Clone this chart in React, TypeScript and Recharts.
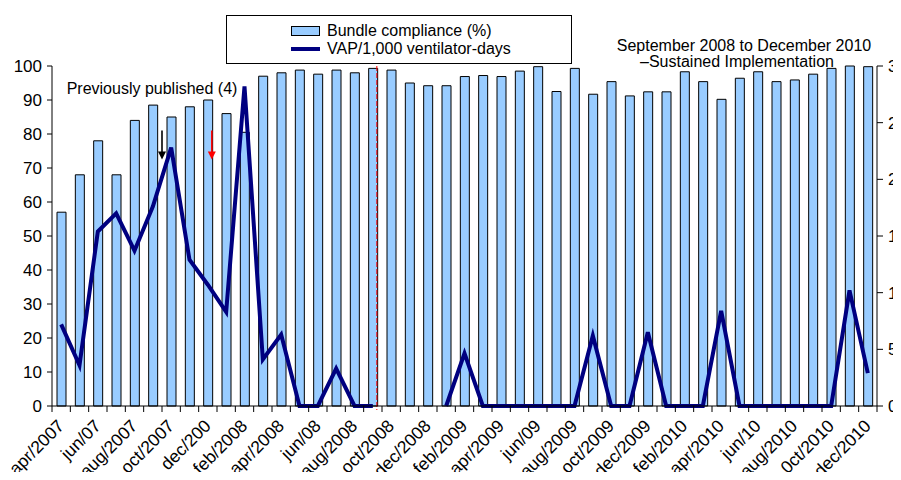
import {
  ComposedChart, Bar, Line, XAxis, YAxis, Legend, ReferenceLine, Customized,
} from 'recharts';

const MONTHS = [
  'apr/2007', 'may/2007', 'jun/2007', 'jul/2007', 'aug/2007', 'sep/2007', 'oct/2007', 'nov/2007', 'dec/2007',
  'jan/2008', 'feb/2008', 'mar/2008', 'apr/2008', 'may/2008', 'jun/2008', 'jul/2008', 'aug/2008', 'sep/2008',
  'oct/2008', 'nov/2008', 'dec/2008', 'jan/2009', 'feb/2009', 'mar/2009', 'apr/2009', 'may/2009', 'jun/2009',
  'jul/2009', 'aug/2009', 'sep/2009', 'oct/2009', 'nov/2009', 'dec/2009', 'jan/2010', 'feb/2010', 'mar/2010',
  'apr/2010', 'may/2010', 'jun/2010', 'jul/2010', 'aug/2010', 'sep/2010', 'oct/2010', 'nov/2010', 'dec/2010',
];

// every other month gets a label, spelled as in the original figure
const TICK_LABELS = [
  'apr/2007', 'jun/07', 'aug/2007', 'oct/2007', 'dec/200', 'feb/2008', 'apr/2008', 'jun/08',
  'aug/2008', 'oct/2008', 'dec/2008', 'feb/2009', 'apr/2009', 'jun/09', 'aug/2009', 'oct/2009',
  'dec/2009', 'feb/2010', 'apr/2010', 'jun/10', 'aug/2010', '0ct/2010', 'dec/2010',
];

const COMPLIANCE = [
  57, 68, 78, 68, 84, 88.5, 85, 88, 90,
  86, 80.5, 97, 98, 98.8, 97.6, 98.8, 98, 99.3,
  98.8, 95, 94.2, 94.2, 96.9, 97.2, 96.9, 98.5, 99.8,
  92.5, 99.3, 91.7, 95.4, 91.2, 92.4, 92.4, 98.3, 95.4,
  90.2, 96.4, 98.3, 95.4, 95.9, 97.6, 99.3, 100, 99.8,
];

// oct-dec 2008 have no VAP value in the figure
const VAP_RATE: (number | null)[] = [
  7.2, 3.6, 15.4, 17.0, 13.7, 17.6, 22.8, 12.9, 10.7,
  8.3, 28.2, 4.1, 6.3, 0, 0, 3.3, 0, 0,
  null, null, null, 0, 4.65, 0, 0, 0, 0,
  0, 0, 6.2, 0, 0, 6.5, 0, 0, 0,
  8.4, 0, 0, 0, 0, 0, 0, 10.2, 2.9,
];

const LEFT_TICKS = [0, 10, 20, 30, 40, 50, 60, 70, 80, 90, 100];
const RIGHT_TICKS = [0, 5, 10, 15, 20, 25, 30];

const data = MONTHS.map((month, i) => ({
  month,
  compliance: COMPLIANCE[i],
  vap: VAP_RATE[i],
}));

const FONT = '"Liberation Sans", Arial, Helvetica, sans-serif';
const CHART_W = 940;
const PLOT_LEFT = 52;
const PLOT_RIGHT = 877;
const BAND = (PLOT_RIGHT - PLOT_LEFT) / MONTHS.length;

function MonthTick(props: any) {
  const { x, y, payload } = props;
  const index: number = payload?.index ?? props.index ?? 0;
  const label = index % 2 === 0 ? TICK_LABELS[index / 2] : null;
  const edge = x - BAND / 2;
  const tx = x + 4;
  const ty = y + 21;
  return (
    <g>
      <line x1={edge} y1={y} x2={edge} y2={y + 6} stroke="#000" />
      {index === MONTHS.length - 1 && (
        <line x1={x + BAND / 2} y1={y} x2={x + BAND / 2} y2={y + 6} stroke="#000" />
      )}
      {label && (
        <text
          x={tx}
          y={ty}
          transform={`rotate(-45 ${tx} ${ty})`}
          textAnchor="end"
          fontSize={17.5}
          fontFamily={FONT}
          fill="#000"
        >
          {label}
        </text>
      )}
    </g>
  );
}

function LegendBox() {
  return (
    <div style={{
      width: 346, height: 49, boxSizing: 'border-box', border: '1px solid #000',
      background: '#fff', fontFamily: FONT, fontSize: 16, color: '#000', position: 'relative',
    }}>
      <div style={{ position: 'absolute', left: 64, top: 6, display: 'flex', alignItems: 'center' }}>
        <span style={{
          width: 27, height: 8, background: '#99ccff', border: '1px solid #000',
          display: 'inline-block', marginRight: 7,
        }} />
        Bundle compliance (%)
      </div>
      <div style={{ position: 'absolute', left: 64, top: 24, display: 'flex', alignItems: 'center' }}>
        <span style={{
          width: 29, height: 4, background: '#000080', display: 'inline-block', marginRight: 7,
        }} />
        VAP/1,000 ventilator-days
      </div>
    </div>
  );
}

function Notes() {
  return (
    <g fontFamily={FONT} fontSize={16} fill="#000">
      <text x={152} y={94} textAnchor="middle">Previously published (4)</text>
      <text x={744} y={51} textAnchor="middle">September 2008 to December 2010</text>
      <text x={737} y={67} textAnchor="middle">–Sustained Implementation</text>
    </g>
  );
}

// draws a short downward arrow, nudged sideways from the category centre
function arrowShape(color: string, dx: number) {
  return (p: any) => {
    const x = (p.x1 ?? 0) + dx;
    const top = Math.min(p.y1, p.y2);
    const bottom = Math.max(p.y1, p.y2);
    return (
      <g>
        <line x1={x} y1={top} x2={x} y2={bottom - 7} stroke={color} strokeWidth={1.6} />
        <path d={`M${x - 4},${bottom - 8} L${x + 4},${bottom - 8} L${x},${bottom} Z`} fill={color} />
      </g>
    );
  };
}

function phaseLine(p: any) {
  const x = (p.x1 ?? 0) + 4;
  const top = Math.min(p.y1, p.y2);
  const bottom = Math.max(p.y1, p.y2);
  return <line x1={x} y1={top} x2={x} y2={bottom + 4} stroke="#ff0000" strokeWidth={1} strokeDasharray="5 2" />;
}

export default function App() {
  return (
    <div style={{ margin: -8, width: 901, height: 480, overflow: 'hidden', background: '#fff' }}>
      <ComposedChart
        width={CHART_W}
        height={480}
        data={data}
        margin={{ top: 66, right: 0, bottom: 0, left: 0 }}
        barCategoryGap={0}
      >
        <XAxis
          dataKey="month"
          xAxisId="m"
          height={74}
          interval={0}
          tickSize={0}
          tickMargin={0}
          tickLine={false}
          axisLine={{ stroke: '#000' }}
          tick={<MonthTick />}
        />
        <YAxis
          yAxisId="left"
          width={52}
          domain={[0, 100]}
          ticks={LEFT_TICKS}
          interval={0}
          tickSize={5}
          tickMargin={5}
          axisLine={{ stroke: '#000' }}
          tickLine={{ stroke: '#000' }}
          tick={{ fill: '#000', fontSize: 17, fontFamily: FONT }}
        />
        <YAxis
          yAxisId="right"
          orientation="right"
          width={CHART_W - PLOT_RIGHT}
          domain={[0, 30]}
          ticks={RIGHT_TICKS}
          interval={0}
          tickSize={6}
          tickMargin={5}
          axisLine={{ stroke: '#000' }}
          tickLine={{ stroke: '#000' }}
          tick={{ fill: '#000', fontSize: 17, fontFamily: FONT, textAnchor: 'start' }}
        />
        <Legend
          layout="vertical"
          align="center"
          verticalAlign="middle"
          wrapperStyle={{ left: 226, top: 15, width: 346, height: 49 }}
          content={() => <LegendBox />}
        />
        <Bar
          xAxisId="m"
          yAxisId="left"
          dataKey="compliance"
          name="Bundle compliance (%)"
          barSize={9}
          fill="#99ccff"
          stroke="#000"
          strokeWidth={1}
          isAnimationActive={false}
        />
        <Line
          xAxisId="m"
          yAxisId="right"
          type="linear"
          dataKey="vap"
          name="VAP/1,000 ventilator-days"
          stroke="#000080"
          strokeWidth={4}
          dot={false}
          activeDot={false}
          connectNulls={false}
          isAnimationActive={false}
        />
        <ReferenceLine
          xAxisId="m"
          yAxisId="left"
          x="sep/2008"
          stroke="#ff0000"
          shape={phaseLine}
        />
        <ReferenceLine
          xAxisId="m"
          yAxisId="left"
          segment={[{ x: 'oct/2007', y: 81 }, { x: 'oct/2007', y: 72.5 }]}
          stroke="#000"
          shape={arrowShape('#000', -BAND / 2)}
        />
        <ReferenceLine
          xAxisId="m"
          yAxisId="left"
          segment={[{ x: 'dec/2007', y: 81 }, { x: 'dec/2007', y: 72.5 }]}
          stroke="#ff0000"
          shape={arrowShape('#ff0000', 4)}
        />
        <Customized component={Notes} />
      </ComposedChart>
    </div>
  );
}
